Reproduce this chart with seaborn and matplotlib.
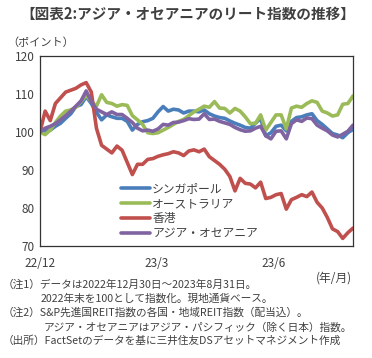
import matplotlib
matplotlib.use("Agg")
import matplotlib.pyplot as plt
import pandas as pd
import seaborn as sns

# 2022/12/30 - 2023/8/31, sampled every 4 days
dates = pd.date_range("2022-12-30", "2023-08-31", freq="4D")

singapore = [
    100.0, 100.3, 100.5, 101.5, 102.3, 103.6, 104.8, 106.7, 107.2, 109.3,
    107.5, 105.2, 103.2, 104.5, 104.0, 103.6, 103.6, 102.8, 100.5, 102.0,
    102.7, 103.0, 103.6, 105.3, 106.7, 105.5, 106.0, 105.8, 105.0, 105.5,
    105.5, 105.3, 105.8, 104.8, 104.2, 103.8, 103.6, 102.9, 102.3, 101.8,
    101.2, 101.0, 102.3, 103.6, 99.0, 99.8, 101.5, 101.8, 100.3, 102.8,
    103.8, 104.0, 104.5, 104.8, 103.0, 102.0, 100.8, 99.6, 99.2, 98.5,
    99.8, 100.7,
]
australia = [
    100.0, 99.3, 100.5, 102.5, 104.2, 105.5, 105.8, 106.5, 108.0, 109.7,
    108.0, 106.8, 109.8, 107.8, 107.5, 106.8, 107.2, 107.0, 104.3, 103.2,
    102.0, 99.8, 99.6, 99.8, 100.5, 101.2, 102.0, 102.8, 103.3, 104.3,
    105.3, 106.0, 106.8, 106.5, 108.0, 106.3, 106.2, 105.0, 106.2, 105.5,
    104.0, 102.2, 102.3, 104.5, 100.5, 102.5, 104.5, 104.5, 100.8, 106.3,
    106.8, 106.5, 107.5, 108.2, 107.8, 105.5, 105.0, 104.2, 104.5, 107.3,
    107.5, 109.5,
]
hongkong = [
    100.0, 105.5, 103.0, 107.5, 109.0, 110.5, 111.0, 111.5, 112.4, 113.0,
    110.5, 101.0, 96.5, 95.5, 94.5, 96.3, 95.2, 92.0, 88.8, 91.5,
    91.5, 92.8, 93.0, 93.6, 94.0, 94.3, 94.8, 94.5, 93.8, 95.0,
    95.3, 94.8, 95.5, 93.5, 92.5, 91.5, 90.2, 88.3, 84.5, 87.8,
    86.5, 86.3, 85.3, 86.8, 82.5, 82.8, 83.5, 83.8, 79.7, 82.2,
    82.8, 83.5, 83.0, 84.2, 81.5, 80.0, 77.5, 74.5, 73.8, 72.0,
    73.5, 74.7,
]
asia_oceania = [
    100.0, 101.0, 101.5, 102.2, 103.2, 104.3, 105.5, 106.8, 108.2, 110.8,
    108.0, 106.0, 105.3, 104.6, 105.3, 104.6, 104.6, 103.6, 102.5, 101.0,
    100.3, 100.5, 100.2, 100.8, 102.0, 101.8, 102.5, 102.6, 103.0, 103.5,
    103.3, 103.4, 104.8, 103.3, 103.4, 102.8, 102.4, 102.0, 101.2, 100.6,
    100.2, 100.3, 101.0, 101.5, 99.0, 98.2, 100.2, 100.3, 98.2, 102.2,
    103.2, 102.8, 103.7, 103.5, 101.8, 101.0, 100.3, 99.2, 98.7, 99.4,
    100.2, 101.8,
]

series_names = ["シンガポール", "オーストラリア", "香港", "アジア・オセアニア"]
series_colors = ["#4a7ebb", "#9bbb59", "#c0504d", "#8064a2"]

tick_dates = pd.to_datetime(["2022-12-30", "2023-03-31", "2023-06-30"])
tick_labels = ["22/12", "23/3", "23/6"]

title = "【図表2:アジア・オセアニアのリート指数の推移】"
notes = [
    ("（注1）データは2022年12月30日～2023年8月31日。", 0.008),
    ("2022年末を100として指数化。現地通貨ベース。", 0.108),
    ("（注2）S&P先進国REIT指数の各国・地域REIT指数（配当込）。", 0.008),
    ("アジア・オセアニアはアジア・パシフィック（除く日本）指数。", 0.118),
    ("（出所）FactSetのデータを基に三井住友DSアセットマネジメント作成", 0.008),
]

frames = []
for name, vals in zip(series_names, [singapore, australia, hongkong, asia_oceania]):
    frames.append(pd.DataFrame({"date": dates, "value": vals, "series": name}))
df = pd.concat(frames, ignore_index=True)

sns.set_theme(style="white")
plt.rcParams["font.family"] = ["Noto Sans CJK JP", "DejaVu Sans"]

text_color = "#404040"

fig = plt.figure(figsize=(3.72, 3.58), dpi=100)
ax = fig.add_axes([40 / 372, 112 / 358, 313 / 372, 190 / 358])

sns.lineplot(
    data=df, x="date", y="value", hue="series", hue_order=series_names,
    palette=series_colors, linewidth=2.6, ax=ax,
)

ax.set_xlim(pd.Timestamp("2022-12-30"), pd.Timestamp("2023-08-31"))
ax.set_ylim(70, 120)
ax.set_yticks([70, 80, 90, 100, 110, 120])
ax.set_xticks(tick_dates)
ax.set_xticklabels(tick_labels)
ax.set_xlabel("")
ax.set_ylabel("")
ax.tick_params(axis="both", direction="in", length=4, width=0.8,
               labelsize=8.5, labelcolor=text_color, colors="#333333")
ax.tick_params(axis="x", pad=8)
ax.tick_params(axis="y", pad=4)
for lbl in ax.get_xticklabels() + ax.get_yticklabels():
    lbl.set_color(text_color)
for sp in ax.spines.values():
    sp.set_color("#333333")
    sp.set_linewidth(0.9)

leg = ax.legend(
    loc="upper left", bbox_to_anchor=(0.245, 0.36), frameon=False,
    fontsize=8.5, handlelength=2.4, handletextpad=0.2, labelspacing=0.15,
    borderaxespad=0,
)
for t in leg.get_texts():
    t.set_color(text_color)
for h in leg.get_lines():
    h.set_linewidth(2.6)

fig.text(0.505, 0.962, title, ha="center", va="center", fontsize=10.5,
         fontweight="bold", color=text_color)
fig.text(0.02, 0.88, "（ポイント）", ha="left", va="center", fontsize=8,
         color=text_color)
fig.text(0.947, 0.224, "(年/月)", ha="right", va="center", fontsize=8.5,
         color=text_color)

ys = [0.205, 0.167, 0.126, 0.086, 0.048]
for (txt, x), y in zip(notes, ys):
    fig.text(x, y, txt, ha="left", va="center", fontsize=7.7, color=text_color)

fig.savefig("out.png", dpi=100)
